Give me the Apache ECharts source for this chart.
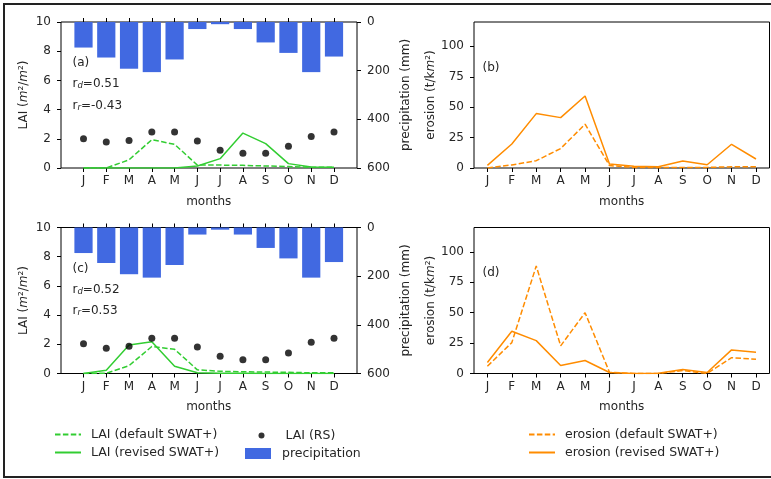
<!DOCTYPE html>
<html><head><meta charset="utf-8">
<script src="https://cdn.jsdelivr.net/npm/echarts@6/dist/echarts.min.js"></script>
<style>html,body{margin:0;padding:0;background:#fff}#c{width:771px;height:479px}</style>
</head><body><div id="c"></div>
<script>
// ---------- data ----------
const months = ['J','F','M','A','M','J','J','A','S','O','N','D'];
const precipitation = [105, 146, 192, 206, 154, 29, 9, 29, 84, 127, 206, 142];

const laiRS_a      = [2.00, 1.78, 1.89, 2.46, 2.46, 1.85, 1.22, 1.01, 1.01, 1.49, 2.16, 2.46];
const laiDefault_a = [0.0, 0.0, 0.56, 1.94, 1.62, 0.2, 0.2, 0.18, 0.14, 0.1, 0.05, 0.05];
const laiRevised_a = [0.0, 0.0, 0.0, 0.0, 0.0, 0.14, 0.64, 2.39, 1.67, 0.3, 0.07, 0.05];

const laiRS_c      = [2.04, 1.73, 1.86, 2.41, 2.41, 1.82, 1.18, 0.95, 0.95, 1.41, 2.14, 2.41];
const laiDefault_c = [0.0, 0.02, 0.54, 1.85, 1.66, 0.25, 0.15, 0.12, 0.1, 0.08, 0.05, 0.05];
const laiRevised_c = [0.0, 0.23, 1.95, 2.18, 0.5, 0.05, 0.02, 0.02, 0.0, 0.0, 0.0, 0.0];

const eroDefault_b = [0, 2.5, 6, 16, 36, 2, 0.5, 0.3, 0.5, 0.5, 1, 1];
const eroRevised_b = [2.2, 19.7, 44.7, 41.4, 59.2, 3.3, 1.4, 1.0, 5.8, 2.7, 19.5, 7.4];

const eroDefault_d = [6, 25.4, 88.3, 22.7, 50, 1, 0, 0, 2.5, 0, 13, 11.7];
const eroRevised_d = [9, 34.7, 27, 6.6, 10.7, 0.8, 0, 0.3, 3.3, 0.8, 19.4, 17.5];

const laiTicks = [0, 2, 4, 6, 8, 10];
const precipTicks = [0, 200, 400, 600];
const erosionTicks = [0, 25, 50, 75, 100];

// ---------- style ----------
const FONT = 'DejaVu Sans';
const TXT = '#262626';
const GREEN = '#32CD32';
const ORANGE = '#FF8C00';
const BLUE = '#4169E1';
const DASH = [5.5, 2.4];

const chart = echarts.init(document.getElementById('c'), null, {renderer: 'canvas'});

// layout
const L = {
  a: {frame: [61, 22, 296, 146], data: [83.5, 22, 250.5, 146]},
  b: {frame: [474, 22, 295.5, 146], data: [487.4, 22, 268.6, 146]},
  c: {frame: [61, 227.5, 296, 146], data: [83.5, 227.5, 250.5, 146]},
  d: {frame: [474, 227.5, 295.5, 146], data: [487.4, 227.5, 268.6, 146]}
};
function grid(r, frame) {
  return {left: r[0], top: r[1], width: r[2], height: r[3], containLabel: false,
    show: !!frame, borderColor: '#000', borderWidth: 1, backgroundColor: 'transparent'};
}
const tickStyle = {show: true, inside: false, length: 4, interval: 0, lineStyle: {color: '#000', width: 1}};
const lblStyle = {fontFamily: FONT, fontSize: 12, color: TXT};

function catX(gi, top) {
  return {type: 'category', gridIndex: gi, data: months, boundaryGap: false,
    position: top ? 'top' : 'bottom',
    axisLine: {show: false}, axisTick: tickStyle,
    axisLabel: Object.assign({show: !top, margin: 7, interval: 0}, lblStyle),
    splitLine: {show: false},
    name: top ? '' : 'months', nameLocation: 'middle', nameGap: 27.5,
    nameTextStyle: lblStyle};
}
const italic = {i: {fontFamily: FONT, fontSize: 12, fontStyle: 'italic', color: TXT}};
function valY(gi, opt) {
  return Object.assign({type: 'value', gridIndex: gi,
    axisLine: {show: false},
    axisTick: Object.assign({}, tickStyle, {customValues: opt.ticks}),
    axisLabel: Object.assign({margin: 10, customValues: opt.ticks}, lblStyle),
    splitLine: {show: false},
    nameLocation: 'middle', nameRotate: 90,
    nameTextStyle: Object.assign({rich: italic}, lblStyle)}, opt.o);
}

const xAxis = [
  catX(0, false), catX(0, true),
  catX(1, false),
  catX(2, false), catX(2, true),
  catX(3, false),
  {type: 'value', gridIndex: 4, show: false}, {type: 'value', gridIndex: 5, show: false},
  {type: 'value', gridIndex: 6, show: false}, {type: 'value', gridIndex: 7, show: false}
];
const laiName = 'LAI ({i|m}²/{i|m}²)';
const eroName = 'erosion (t/k{i|m}²)';
const yAxis = [
  valY(0, {ticks: laiTicks, o: {min: 0, max: 10, position: 'left', offset: 22.5, name: laiName, nameGap: 31}}),
  valY(0, {ticks: precipTicks, o: {min: 0, max: 600, inverse: true, position: 'right', offset: 23, name: 'precipitation (mm)', nameGap: 42.5}}),
  valY(1, {ticks: erosionTicks, o: {min: 0, max: 120, position: 'left', offset: 13.4, name: eroName, nameGap: 34}}),
  valY(2, {ticks: laiTicks, o: {min: 0, max: 10, position: 'left', offset: 22.5, name: laiName, nameGap: 31}}),
  valY(2, {ticks: precipTicks, o: {min: 0, max: 600, inverse: true, position: 'right', offset: 23, name: 'precipitation (mm)', nameGap: 42.5}}),
  valY(3, {ticks: erosionTicks, o: {min: 0, max: 120, position: 'left', offset: 13.4, name: eroName, nameGap: 34}}),
  {type: 'value', gridIndex: 4, show: false}, {type: 'value', gridIndex: 5, show: false},
  {type: 'value', gridIndex: 6, show: false}, {type: 'value', gridIndex: 7, show: false}
];

function line(name, xi, yi, data, color, dashed) {
  return {type: 'line', name, xAxisIndex: xi, yAxisIndex: yi, data, symbol: 'none',
    itemStyle: {color}, lineStyle: {color, width: 1.5, type: dashed ? DASH : 'solid'}, z: 3};
}
function bars(xi, yi) {
  return {type: 'bar', name: 'precipitation', xAxisIndex: xi, yAxisIndex: yi, data: precipitation,
    barWidth: '80%', itemStyle: {color: BLUE}, z: 1};
}
function dots(xi, yi, data) {
  return {type: 'scatter', name: 'LAI (RS)', xAxisIndex: xi, yAxisIndex: yi, data, symbolSize: 7,
    itemStyle: {color: '#000'}, z: 4};
}

const series = [
  bars(0, 1),
  line('LAI (default SWAT+)', 0, 0, laiDefault_a, GREEN, true),
  line('LAI (revised SWAT+)', 0, 0, laiRevised_a, GREEN, false),
  dots(0, 0, laiRS_a),
  line('erosion (default SWAT+)', 2, 2, eroDefault_b, ORANGE, true),
  line('erosion (revised SWAT+)', 2, 2, eroRevised_b, ORANGE, false),
  bars(3, 4),
  line('LAI (default SWAT+)', 3, 3, laiDefault_c, GREEN, true),
  line('LAI (revised SWAT+)', 3, 3, laiRevised_c, GREEN, false),
  dots(3, 3, laiRS_c),
  line('erosion (default SWAT+)', 5, 5, eroDefault_d, ORANGE, true),
  line('erosion (revised SWAT+)', 5, 5, eroRevised_d, ORANGE, false)
];

const legTxt = {fontFamily: FONT, fontSize: 12.5, color: TXT, padding: [0, 0, 0, 5]};
function legend(data, left, top, extra) {
  return Object.assign({data, left, top, orient: 'vertical', itemWidth: 26, itemHeight: 12,
    itemGap: 5, padding: 0, selectedMode: false, textStyle: legTxt}, extra || {});
}
const noSymbol = {itemStyle: {opacity: 0, borderWidth: 0}};

const sub = {s: {fontFamily: FONT, fontSize: 8.5, fontStyle: 'italic', fill: TXT, verticalAlign: 'bottom', padding: [0, 0, 0, 0]}};
function ann(text, x, y) {
  return {type: 'text', silent: true, z: 10, style: {text, x, y, fontFamily: FONT, fontSize: 12,
    fill: TXT, verticalAlign: 'middle', rich: sub}};
}

chart.setOption({
  animation: false,
  backgroundColor: '#fff',
  grid: [
    grid(L.a.data), grid(L.b.data), grid(L.c.data), grid(L.d.data),
    grid(L.a.frame, true), grid(L.b.frame, true), grid(L.c.frame, true), grid(L.d.frame, true)
  ],
  xAxis, yAxis, series,
  legend: [
    legend(['LAI (default SWAT+)', 'LAI (revised SWAT+)'], 54, 428, noSymbol),
    legend([{name: 'LAI (RS)', icon: 'circle'}], 258.5, 429, {itemWidth: 6, itemHeight: 6, textStyle: Object.assign({}, legTxt, {padding: [0, 0, 0, 16]})}),
    legend([{name: 'precipitation', icon: 'rect'}], 245, 447, {itemHeight: 11, textStyle: Object.assign({}, legTxt, {padding: [0, 0, 0, 6]})}),
    legend(['erosion (default SWAT+)', 'erosion (revised SWAT+)'], 528, 428, noSymbol)
  ],
  graphic: [
    {type: 'rect', silent: true, shape: {x: 4, y: 4, width: 800, height: 473},
      style: {fill: 'none', stroke: '#222', lineWidth: 2}},
    ann('(a)', 72.5, 63), ann('r{s|d}=0.51', 72.5, 84), ann('r{s|r}=-0.43', 72.5, 106),
    ann('(c)', 72.5, 269), ann('r{s|d}=0.52', 72.5, 290), ann('r{s|r}=0.53', 72.5, 311),
    ann('(b)', 482.5, 68), ann('(d)', 482.5, 273)
  ]
});
</script></body></html>
